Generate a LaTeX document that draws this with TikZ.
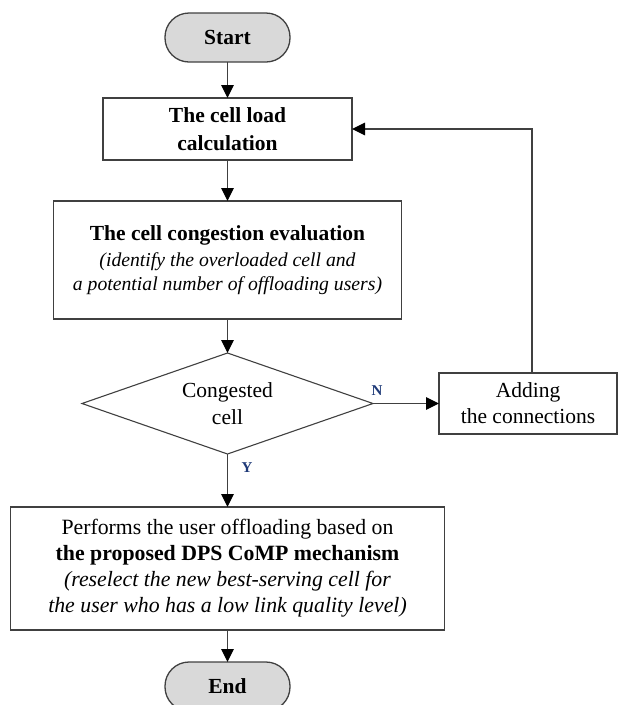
\documentclass[tikz,border=0pt]{standalone}
\usepackage{fontspec}
\setmainfont{Liberation Serif}
\usetikzlibrary{shapes.geometric,arrows.meta}
\definecolor{linec}{HTML}{404040}
\definecolor{fillc}{HTML}{D9D9D9}
\definecolor{lblc}{HTML}{1F3A78}
\begin{document}
\begin{tikzpicture}[x=1pt,y=-1pt,
  every node/.style={inner sep=0pt, outer sep=0pt},
  box/.style={draw=linec, line width=1.3pt, rectangle, align=center, font=\fontsize{21.8}{26}\selectfont},
  term/.style={draw=linec, line width=1.3pt, fill=fillc, rounded corners=24pt, minimum width=125pt, minimum height=49pt, font=\bfseries\fontsize{21.5}{26}\selectfont},
  dec/.style={draw=linec, line width=1.1pt, diamond, aspect=2.88, minimum width=291pt, minimum height=101pt, align=center, font=\fontsize{21.5}{27}\selectfont},
  conn/.style={draw=linec, line width=1.2pt, -{Triangle[length=13pt,width=12.5pt,color=black]}},
  lbl/.style={font=\bfseries\fontsize{15}{15}\selectfont, text=lblc}]
\useasboundingbox (0,0) rectangle (618,705);
\clip (0,0) rectangle (618,705);
\node[term] (start) at (227.5,37.5) {Start};
\node[box, minimum width=249pt, minimum height=62pt, font=\bfseries\fontsize{21.5}{28}\selectfont] (load) at (227.5,129) {The cell load\\calculation};
\node[box, minimum width=348pt, minimum height=118pt, font=\itshape\fontsize{19.7}{23.5}\selectfont] (cong) at (227.5,260)
  {{\upshape\bfseries\fontsize{21.5}{23.5}\selectfont The cell congestion evaluation}\\[3pt]
   (identify the overloaded cell and\\a potential number of offloading users)};
\node[dec] (dec) at (227.5,403.5) {Congested\\cell};
\node[box, minimum width=178pt, minimum height=61pt, font=\fontsize{21.5}{26}\selectfont] (add) at (528,403.5) {Adding\\the connections};
\node[box, minimum width=434pt, minimum height=123pt] (perf) at (227.5,568.5)
  {Performs the user offloading based on\\
   \textbf{the proposed DPS CoMP mechanism}\\
   \textit{(reselect the new best-serving cell for}\\
   \textit{the user who has a low link quality level)}};
\node[term] (end) at (227.5,686.5) {End};
\node[lbl] (nlab) at (377,391) {N};
\node[lbl] (ylab) at (247,468) {Y};
\coordinate (turn) at (532,129);
\draw[conn] (start) -- (load);
\draw[conn] (load) -- (cong);
\draw[conn] (cong) -- (dec);
\draw[conn] (dec.east) -- (add.west);
\draw[conn] (dec.south) -- (perf.north);
\draw[conn] (add.north -| turn) -- (turn) -- (load.east);
\draw[conn] (perf) -- (end);
\end{tikzpicture}
\end{document}
